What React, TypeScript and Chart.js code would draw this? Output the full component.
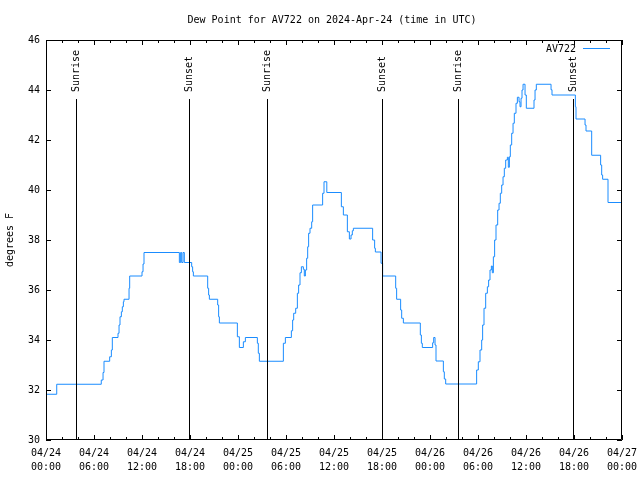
import React, { useEffect, useRef } from "react";
import { Chart, registerables } from "chart.js";

Chart.register(...registerables);

// ---------------- DATA ----------------
const chartTitle = "Dew Point for AV722 on 2024-Apr-24 (time in UTC)";
const seriesName = "AV722";
const yAxisLabel = "degrees F";

// hours since 2024-04-24 00:00 UTC at which the reading changes
const hours = [
  0, 1.34, 6.91, 7.13, 7.25, 7.96, 8.17, 8.29, 9.0, 9.13, 9.25, 9.42, 9.54, 9.67, 9.75,
  10.38, 10.46, 12.0, 12.13, 12.25, 16.67, 16.83, 16.96, 17.13, 17.29, 18.21, 18.33, 18.42,
  20.21, 20.33, 20.42, 21.46, 21.58, 21.67, 23.92, 24.17, 24.67, 24.92, 26.42, 26.54, 26.67,
  29.67, 29.92, 30.67, 30.83, 30.96, 31.21, 31.42, 31.58, 31.75, 31.92, 32.17, 32.29, 32.42,
  32.58, 32.71, 32.83, 33.0, 33.21, 33.33, 34.58, 34.75, 35.1, 36.92, 37.17, 37.67, 37.92,
  38.13, 38.29, 38.42, 40.83, 41.08, 41.17, 41.88, 42.08, 43.71, 43.83, 44.33, 44.46, 44.67,
  46.79, 46.92, 47.04, 48.33, 48.46, 48.63, 48.75, 49.67, 49.79, 49.96, 53.83, 54.04, 54.25,
  54.46, 54.58, 54.75, 54.96, 55.17, 55.33, 55.5, 55.67, 55.79, 55.92, 56.08, 56.25, 56.46,
  56.63, 56.79, 56.96, 57.13, 57.29, 57.46, 57.67, 57.79, 57.92, 58.04, 58.21, 58.38, 58.54,
  58.75, 58.92, 59.13, 59.25, 59.38, 59.5, 59.63, 59.88, 60.04, 61.0, 61.13, 61.29, 63.13,
  63.25, 66.17, 66.25, 67.38, 67.5, 68.21, 69.33, 69.46, 69.58, 70.25, 72,
];

const dewPoint = [
  31.83, 32.23, 32.4, 32.7, 33.15, 33.33, 33.6, 34.1, 34.27, 34.6, 34.93, 35.13, 35.33, 35.53, 35.63,
  36.07, 36.56, 36.73, 37.04, 37.5, 37.1, 37.5, 37.1, 37.5, 37.1, 36.93, 36.73, 36.56,
  36.07, 35.8, 35.63, 35.4, 34.93, 34.68, 34.13, 33.7, 33.93, 34.1, 33.87, 33.47, 33.15,
  33.87, 34.1, 34.37, 34.8, 35.07, 35.27, 35.87, 36.2, 36.69, 36.93, 36.83, 36.56, 36.8,
  37.27, 37.73, 38.27, 38.47, 38.73, 39.4, 39.87, 40.33, 39.9, 39.33, 39.0, 38.33, 38.04,
  38.2, 38.37, 38.47, 38.0, 37.67, 37.52, 37.07, 36.56, 36.07, 35.63, 35.2, 34.87, 34.68,
  34.2, 33.87, 33.7, 33.89, 34.1, 33.8, 33.16, 32.73, 32.44, 32.24, 32.8, 33.13, 33.6,
  34.0, 34.6, 35.27, 35.87, 36.13, 36.4, 36.8, 36.96, 36.69, 37.33, 38.0, 38.6, 39.2,
  39.47, 39.87, 40.2, 40.53, 40.87, 41.2, 41.31, 40.91, 41.33, 41.8, 42.27, 42.67, 43.07,
  43.47, 43.71, 43.53, 43.33, 43.67, 44.0, 44.23, 43.8, 43.27, 43.6, 44.0, 44.23, 44.01,
  43.8, 43.33, 42.84, 42.6, 42.36, 41.39, 41.0, 40.6, 40.43, 39.5, 39.5,
];

const sunriseHours = [3.79, 27.66, 51.54];
const sunsetHours = [17.91, 41.96, 65.91];

const xMin = 0;
const xMax = 72;
const xStepHours = 6;
const yMin = 30;
const yMax = 46;
const yStep = 2;
const startMonth = "04";
const startDay = 24;

// ---------------- STYLE ----------------
const FONT = '"DejaVu Sans Mono", "Liberation Mono", monospace';
const LINE_COLOR = "#1A8CFF";

function pad2(n: number) {
  return n < 10 ? "0" + n : String(n);
}

const overlayPlugin = {
  id: "gnuplotOverlay",
  afterDatasetsDraw(chart: any) {
    const { ctx, chartArea } = chart;
    const xs = chart.scales.x;
    const ys = chart.scales.y;
    const L = chartArea.left;
    const R = chartArea.right;
    const T = chartArea.top;
    const B = chartArea.bottom;
    const H = B - T;
    ctx.save();
    ctx.strokeStyle = "#000";
    ctx.fillStyle = "#000";
    ctx.lineWidth = 1;

    // sunrise / sunset markers
    const events: [number, string][] = [];
    sunriseHours.forEach((h) => events.push([h, "Sunrise"]));
    sunsetHours.forEach((h) => events.push([h, "Sunset"]));
    ctx.font = "10px " + FONT;
    events.forEach(([h, label]) => {
      const x = Math.round(xs.getPixelForValue(h)) + 0.5;
      const lineTop = Math.round(B - 0.853 * H);
      ctx.beginPath();
      ctx.moveTo(x, B);
      ctx.lineTo(x, lineTop);
      ctx.stroke();
      ctx.save();
      ctx.translate(x, B - 0.87 * H);
      ctx.rotate(-Math.PI / 2);
      ctx.textAlign = "left";
      ctx.textBaseline = "middle";
      ctx.fillText(label, 0, 0);
      ctx.restore();
    });

    // frame
    ctx.beginPath();
    ctx.rect(L + 0.5, T + 0.5, R - L - 1, B - T - 1);
    ctx.stroke();

    // inward ticks
    ctx.beginPath();
    for (let v = yMin; v <= yMax; v += yStep) {
      const y = Math.round(ys.getPixelForValue(v)) + 0.5;
      ctx.moveTo(L, y);
      ctx.lineTo(L + 5, y);
      ctx.moveTo(R, y);
      ctx.lineTo(R - 5, y);
    }
    for (let h = xMin; h <= xMax; h += 2) {
      const x = Math.round(xs.getPixelForValue(h)) + 0.5;
      const len = h % xStepHours === 0 ? 5 : 3;
      ctx.moveTo(x, B);
      ctx.lineTo(x, B - len);
      ctx.moveTo(x, T);
      ctx.lineTo(x, T + len);
    }
    ctx.stroke();

    // title
    ctx.font = "10px " + FONT;
    ctx.textAlign = "center";
    ctx.textBaseline = "middle";
    ctx.fillText(chartTitle, 332, 20);

    // legend
    ctx.textAlign = "right";
    ctx.fillText(seriesName, 576, 49);
    ctx.strokeStyle = LINE_COLOR;
    ctx.beginPath();
    ctx.moveTo(583, 48.5);
    ctx.lineTo(610, 48.5);
    ctx.stroke();
    ctx.restore();
  },
};

export default function App() {
  const canvasRef = useRef<HTMLCanvasElement | null>(null);

  useEffect(() => {
    if (!canvasRef.current) return;
    const points = hours.map((h, i) => ({ x: h, y: dewPoint[i] }));
    const chart = new Chart(canvasRef.current, {
      type: "line",
      data: {
        datasets: [
          {
            label: seriesName,
            data: points,
            borderColor: LINE_COLOR,
            borderWidth: 1,
            pointRadius: 0,
            stepped: true,
            fill: false,
          },
        ],
      },
      options: {
        animation: false,
        responsive: false,
        devicePixelRatio: 1,
        layout: { padding: { top: 40, right: 18, left: 0, bottom: 0 } },
        plugins: {
          legend: { display: false },
          title: { display: false },
          tooltip: { enabled: false },
        },
        scales: {
          x: {
            type: "linear",
            min: xMin,
            max: xMax,
            grid: { display: false, drawTicks: false },
            border: { display: false },
            ticks: {
              stepSize: xStepHours,
              autoSkip: false,
              maxRotation: 0,
              minRotation: 0,
              padding: 6,
              color: "#000",
              font: { family: FONT, size: 10, lineHeight: 1.4 },
              callback: (value: any) => {
                const v = Number(value);
                const day = startDay + Math.floor(v / 24);
                return [startMonth + "/" + pad2(day), pad2(v % 24) + ":00"];
              },
            },
            afterFit: (s: any) => {
              s.height = 40;
              s.paddingLeft = 0;
              s.paddingRight = 0;
            },
          },
          y: {
            min: yMin,
            max: yMax,
            grid: { display: false, drawTicks: false },
            border: { display: false },
            ticks: {
              stepSize: yStep,
              padding: 6,
              color: "#000",
              font: { family: FONT, size: 10 },
            },
            title: {
              display: true,
              text: yAxisLabel,
              color: "#000",
              font: { family: FONT, size: 10 },
              padding: { top: 4, bottom: 0 },
            },
            afterFit: (s: any) => {
              s.width = 46;
              s.paddingTop = 0;
              s.paddingBottom = 0;
            },
          },
        },
      },
      plugins: [overlayPlugin],
    } as any);
    return () => chart.destroy();
  }, []);

  return (
    <div style={{ position: "absolute", left: 0, top: 0, width: 640, height: 480, background: "#fff" }}>
      <canvas ref={canvasRef} width={640} height={480} />
    </div>
  );
}
